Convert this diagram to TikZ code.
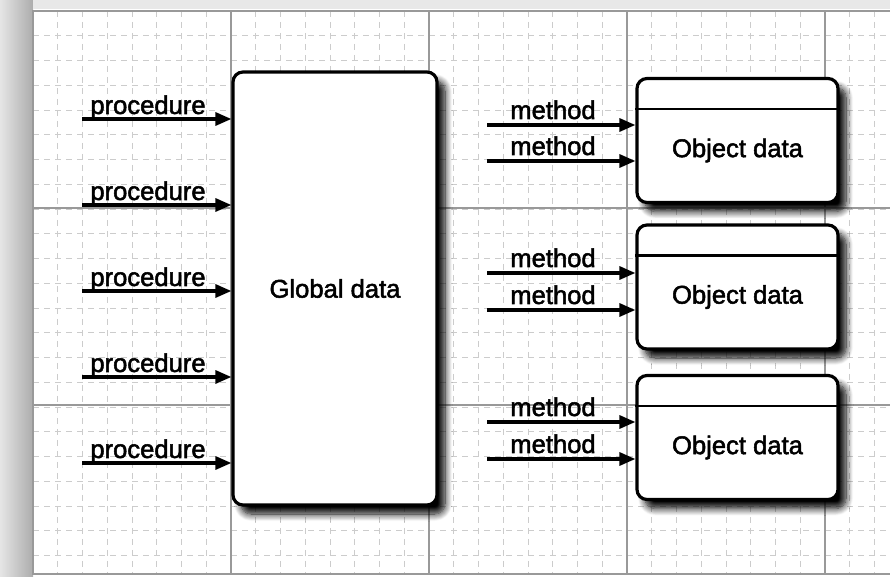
\documentclass[tikz,border=0pt]{standalone}
\usepackage{fontspec}
\setmainfont{Liberation Sans}
\newfontfamily\scanfont{Liberation Sans}[FakeBold=2]
\usepackage{tikz}
\usetikzlibrary{arrows.meta,positioning,calc,shadows.blur}
\tikzset{
  databox/.style = {draw, line width=1.6pt, rounded corners=5pt, fill=white,
                    inner sep=0pt,
                    blur shadow={shadow xshift=4pt, shadow yshift=-4.5pt,
                                 shadow blur radius=3.5pt, shadow blur steps=10,
                                 shadow opacity=100}},
  call/.style    = {-{Triangle[length=8pt,width=6.5pt]}, line width=1.6pt},
  lbl/.style     = {inner sep=0pt, anchor=base},
  majorline/.style = {gray!80, line width=0.6pt},
  minorline/.style = {gray!40, line width=0.4pt, dash pattern=on 3pt off 2.5pt},
}

\begin{document}
\begin{tikzpicture}[x=0.5pt, y=-0.5pt, font=\scanfont\fontsize{12.8}{14}\selectfont]
\useasboundingbox (0,0) rectangle (890,577);
% ---------------- scanned paper edge ----------------
\shade[left color=gray!20, right color=gray!65] (0,0) rectangle (33,577);
\fill[gray!18] (33,0) rectangle (890,9);
% ---------------- grid ----------------
\begin{scope}
\clip (33,11) rectangle (890,574);
\foreach \x in {0,...,35}
  \draw[minorline] (33+\x*24.75,11) -- (33+\x*24.75,574);
\foreach \y in {0,...,23}
  \draw[minorline] (33,11+\y*24.75) -- (890,11+\y*24.75);
\foreach \x in {231,429,627,825}
  \draw[majorline] (\x,11) -- (\x,574);
\foreach \y in {208,405}
  \draw[majorline] (33,\y) -- (890,\y);
\end{scope}
\draw[majorline] (895,11) -- (33,11) -- (33,574) -- (895,574);
% ---------------- global data ----------------
\node[databox, minimum width=102pt, minimum height=216.5pt] (glob)
   at (335,288.5) {Global data};
\foreach \y [count=\i] in {119,205,291,377,463} {
  \coordinate (proc\i) at (82,\y);
  \draw[call] (proc\i) -- (proc\i -| glob.west);
  \node[lbl] (proclbl\i) at (148,\y-5) {procedure};
}
% ---------------- objects ----------------
\foreach \y [count=\i] in {140.5,287,437.5} {
  \node[databox, minimum width=100.5pt, minimum height=62pt] (obj\i)
     at (737.5,\y) {};
  \draw[line width=1.2pt] ([yshift=-16pt]obj\i.north west)
     -- ([yshift=-16pt]obj\i.north east);
  \node (objtxt\i) at (737.5,\y+10) {Object data};
}
\foreach \ya/\yb [count=\i] in {125/161,273/310,422/459} {
  \coordinate (metha\i) at (487,\ya);
  \coordinate (methb\i) at (487,\yb);
  \draw[call] (metha\i) -- (metha\i -| obj\i.west);
  \draw[call] (methb\i) -- (methb\i -| obj\i.west);
  \node[lbl] (methlbla\i) at (553,\ya-6) {method};
  \node[lbl] (methlblb\i) at (553,\yb-6) {method};
}
\end{tikzpicture}
\end{document}
